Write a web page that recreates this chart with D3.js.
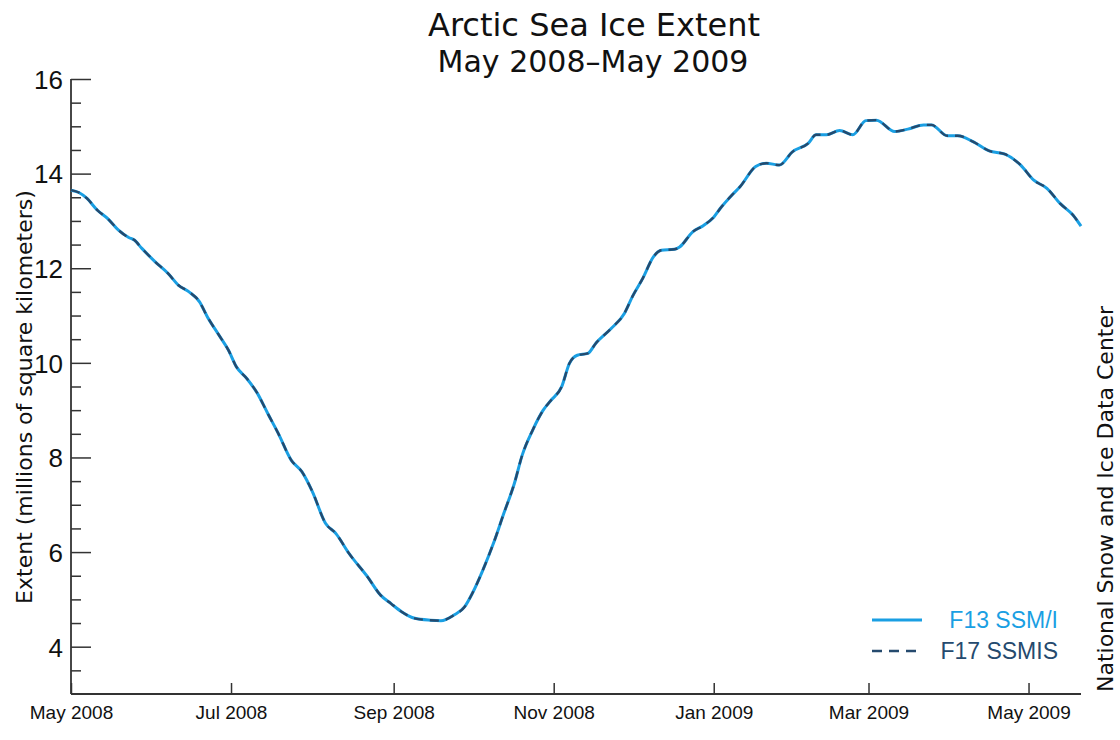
<!DOCTYPE html>
<html>
<head>
<meta charset="utf-8">
<script src="https://cdn.jsdelivr.net/npm/d3@7"></script>
<style>
  html, body { margin: 0; padding: 0; background: #fff; }
  svg { display: block; }
</style>
</head>
<body>
<svg id="chart" width="1120" height="740"></svg>
<script>
// ---------- data ----------
const dates = [
  "2008-05-01","2008-05-04","2008-05-07","2008-05-11","2008-05-15","2008-05-19","2008-05-23","2008-05-25","2008-05-28",
  "2008-06-02","2008-06-07","2008-06-11","2008-06-15","2008-06-19","2008-06-22","2008-06-26","2008-06-30",
  "2008-07-03","2008-07-07","2008-07-11","2008-07-15","2008-07-19","2008-07-24","2008-07-28",
  "2008-08-01","2008-08-06","2008-08-10","2008-08-15","2008-08-22","2008-08-27","2008-08-31",
  "2008-09-04","2008-09-09","2008-09-15","2008-09-19","2008-09-24","2008-09-28",
  "2008-10-01","2008-10-05","2008-10-09","2008-10-13","2008-10-17","2008-10-20","2008-10-24","2008-10-28","2008-10-31",
  "2008-11-04","2008-11-07","2008-11-10","2008-11-14","2008-11-17","2008-11-23","2008-11-28",
  "2008-12-01","2008-12-05","2008-12-09","2008-12-12","2008-12-17","2008-12-19","2008-12-24","2008-12-28",
  "2009-01-01","2009-01-04","2009-01-08","2009-01-11","2009-01-17","2009-01-21","2009-01-26","2009-01-31",
  "2009-02-06","2009-02-09","2009-02-13","2009-02-18","2009-02-23","2009-02-28",
  "2009-03-04","2009-03-11","2009-03-16","2009-03-22","2009-03-25","2009-03-31",
  "2009-04-04","2009-04-10","2009-04-16","2009-04-22","2009-04-28",
  "2009-05-03","2009-05-08","2009-05-13","2009-05-18","2009-05-21"
];
const f13 = [
  13.65,13.60,13.48,13.23,13.05,12.81,12.65,12.60,12.42,
  12.14,11.89,11.64,11.50,11.29,10.97,10.62,10.27,
  9.92,9.67,9.36,8.93,8.51,7.94,7.70,
  7.28,6.61,6.39,5.97,5.48,5.09,4.91,
  4.74,4.60,4.56,4.55,4.67,4.84,
  5.13,5.62,6.18,6.82,7.45,8.05,8.58,9.00,9.21,
  9.49,9.99,10.16,10.20,10.41,10.73,11.05,
  11.40,11.79,12.24,12.38,12.40,12.45,12.77,12.90,
  13.08,13.30,13.55,13.72,14.15,14.22,14.18,14.46,
  14.64,14.82,14.82,14.91,14.82,15.12,
  15.13,14.89,14.94,15.03,15.03,14.80,
  14.80,14.67,14.48,14.41,14.18,
  13.86,13.69,13.37,13.12,12.89
];
const f17 = [
  13.65,13.60,13.48,13.23,13.05,12.81,12.65,12.60,12.42,
  12.14,11.89,11.64,11.50,11.29,10.97,10.62,10.27,
  9.92,9.67,9.36,8.93,8.51,7.94,7.70,
  7.28,6.61,6.39,5.97,5.48,5.09,4.91,
  4.74,4.60,4.56,4.55,4.67,4.84,
  5.13,5.62,6.18,6.82,7.45,8.05,8.58,9.00,9.21,
  9.49,9.99,10.16,10.20,10.41,10.73,11.05,
  11.40,11.79,12.24,12.38,12.40,12.45,12.77,12.90,
  13.08,13.30,13.55,13.72,14.15,14.22,14.18,14.46,
  14.64,14.82,14.82,14.91,14.82,15.12,
  15.13,14.89,14.94,15.03,15.03,14.80,
  14.80,14.67,14.48,14.41,14.18,
  13.86,13.69,13.37,13.12,12.89
];
const seriesNames = ["F13 SSM/I", "F17 SSMIS"];
const yTickValues = [4, 6, 8, 10, 12, 14, 16];
const xTickDates = ["2008-05-01","2008-07-01","2008-09-01","2008-11-01","2009-01-01","2009-03-01","2009-05-01"];
const xDomain = ["2008-05-01","2009-05-21"];
const yDomain = [3, 16];
const titleText = "Arctic Sea Ice Extent";
const subtitleText = "May 2008\u2013May 2009";
const yLabelText = "Extent (millions of square kilometers)";
const creditText = "National Snow and Ice Data Center";

// ---------- setup ----------
const parse = d3.utcParse("%Y-%m-%d");
const svg = d3.select("#chart");
const plotLeft = 71, plotRight = 1081, plotTop = 79, plotBottom = 694;

const x = d3.scaleUtc().domain(xDomain.map(parse)).range([plotLeft, plotRight]);
const y = d3.scaleLinear().domain(yDomain).range([plotBottom, plotTop]);

const blue = "#1a9fe3";
const navy = "#254a6e";
const axisColor = "#333";
const sans = "'Liberation Sans', Arial, sans-serif";
const humanist = "'DejaVu Sans', sans-serif";

// ---------- axes ----------
const yMinor = d3.range(3.5, 16.01, 0.5).filter(v => !yTickValues.includes(v));
const gy = svg.append("g").attr("transform", `translate(${plotLeft},0)`);
gy.call(d3.axisRight(y).tickValues(yMinor).tickSize(10).tickFormat(""));
gy.select(".domain").remove();
gy.selectAll("line").attr("stroke", axisColor).attr("stroke-width", 1.5);

const gyMajor = svg.append("g").attr("transform", `translate(${plotLeft},0)`)
  .call(d3.axisRight(y).tickValues(yTickValues).tickSize(20).tickFormat(d3.format("d")));
gyMajor.select(".domain").remove();
gyMajor.selectAll("line").attr("stroke", axisColor).attr("stroke-width", 1.5);
gyMajor.selectAll("text")
  .attr("x", -8).attr("dy", "0.36em").attr("text-anchor", "end")
  .style("font-family", sans).style("font-size", "26px").attr("fill", "#111");

const gx = svg.append("g").attr("transform", `translate(0,${plotBottom})`)
  .call(d3.axisTop(x).tickValues(xTickDates.map(parse)).tickSize(11).tickFormat(d3.utcFormat("%b %Y")));
gx.select(".domain").remove();
gx.selectAll("line").attr("stroke", axisColor).attr("stroke-width", 1.5);
gx.selectAll("text").attr("y", 25).attr("dy", "0em")
  .style("font-family", sans).style("font-size", "19px").attr("fill", "#111");

// axis lines
svg.append("line").attr("x1", plotLeft).attr("x2", plotLeft).attr("y1", y(16)).attr("y2", plotBottom)
  .attr("stroke", axisColor).attr("stroke-width", 1.8);
svg.append("line").attr("x1", plotLeft).attr("x2", plotRight).attr("y1", plotBottom).attr("y2", plotBottom)
  .attr("stroke", axisColor).attr("stroke-width", 1.8);

// ---------- lines ----------
const line = d3.line()
  .x(d => x(d.date))
  .y(d => y(d.v))
  .curve(d3.curveMonotoneX);

const d13 = dates.map((d, i) => ({ date: parse(d), v: f13[i] }));
const d17 = dates.map((d, i) => ({ date: parse(d), v: f17[i] }));

svg.append("path").datum(d13).attr("d", line)
  .attr("fill", "none").attr("stroke", blue).attr("stroke-width", 3).attr("stroke-linejoin", "round");
svg.append("path").datum(d17).attr("d", line)
  .attr("fill", "none").attr("stroke", navy).attr("stroke-width", 2.4).attr("stroke-dasharray", "9,7");

// ---------- legend ----------
const legend = svg.append("g");
const legItems = [
  { name: seriesNames[0], color: blue, dash: null, width: 3, yy: 620 },
  { name: seriesNames[1], color: navy, dash: "10,7", width: 2.6, yy: 651 }
];
legItems.forEach(it => {
  legend.append("line").attr("x1", 872).attr("x2", 922).attr("y1", it.yy).attr("y2", it.yy)
    .attr("stroke", it.color).attr("stroke-width", it.width).attr("stroke-dasharray", it.dash);
  legend.append("text").attr("x", 1058).attr("y", it.yy + 8)
    .attr("text-anchor", "end").attr("fill", it.color)
    .style("font-family", sans).style("font-size", "23px")
    .text(it.name);
});

// ---------- titles ----------
svg.append("text").attr("x", 594).attr("y", 36).attr("text-anchor", "middle")
  .style("font-family", humanist).style("font-size", "32px").attr("fill", "#111")
  .text(titleText);
svg.append("text").attr("x", 593).attr("y", 72).attr("text-anchor", "middle")
  .style("font-family", humanist).style("font-size", "30px").attr("fill", "#111")
  .text(subtitleText);

svg.append("text").attr("transform", `translate(32,397) rotate(-90)`).attr("text-anchor", "middle")
  .style("font-family", humanist).style("font-size", "22px").attr("fill", "#111")
  .text(yLabelText);

svg.append("text").attr("transform", `translate(1113,499) rotate(-90)`).attr("text-anchor", "middle")
  .style("font-family", humanist).style("font-size", "22px").attr("fill", "#111")
  .text(creditText);
</script>
</body>
</html>
